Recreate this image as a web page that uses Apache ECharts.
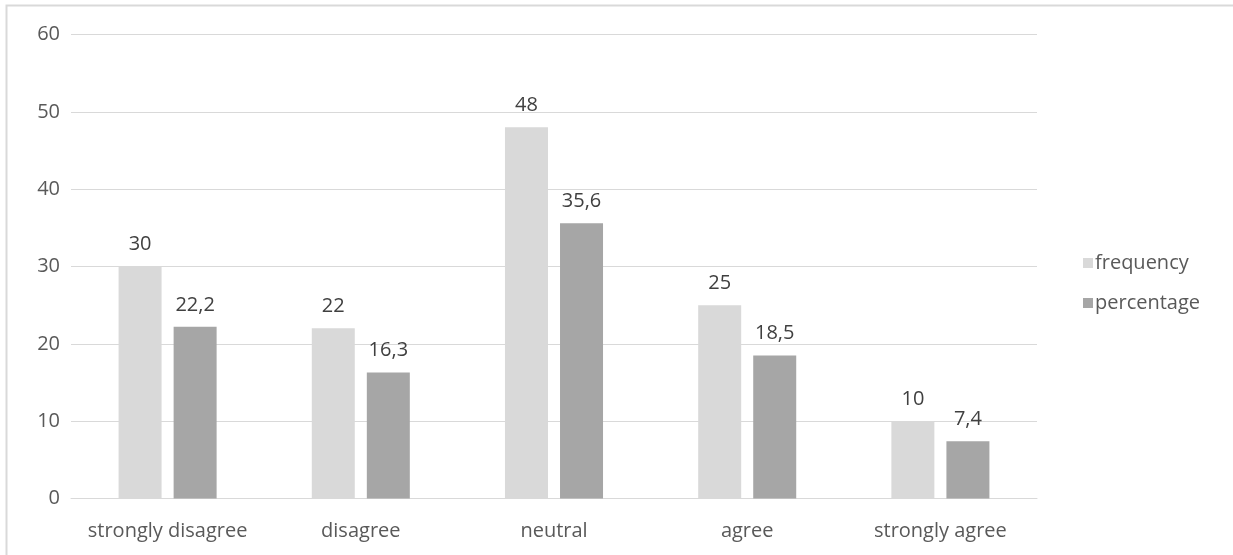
<!DOCTYPE html>
<html>
<head>
<meta charset="utf-8">
<script src="https://cdn.jsdelivr.net/npm/echarts@6/dist/echarts.min.js"></script>
<style>
  html, body { margin: 0; padding: 0; background: #fff; }
  #chart { width: 1233px; height: 555px; }
</style>
</head>
<body>
<div id="chart"></div>
<script>
// Survey responses by agreement level
const categories = ['strongly disagree', 'disagree', 'neutral', 'agree', 'strongly agree'];
const frequency = [30, 22, 48, 25, 10];
const percentage = [22.2, 16.3, 35.6, 18.5, 7.4];

const FONT = '"Open Sans", "Noto Sans", sans-serif';
const FS = 20;

const fmtComma = v => String(v).replace('.', ',');

const chart = echarts.init(document.getElementById('chart'), null, { renderer: 'canvas' });

const labelStyle = {
  show: true,
  position: 'top',
  distance: 12,
  color: '#404040',
  fontSize: FS,
  fontFamily: FONT,
  formatter: p => fmtComma(p.value)
};

chart.setOption({
  backgroundColor: '#ffffff',
  animation: false,
  graphic: [{
    type: 'rect',
    shape: { x: 6.5, y: 5.5, width: 1240, height: 600 },
    style: { fill: 'none', stroke: '#d9d9d9', lineWidth: 2 },
    silent: true,
    z: -1
  }],
  grid: { left: 71, right: 196, top: 34.5, bottom: 56.5, containLabel: false },
  legend: {
    orient: 'vertical',
    left: 1078,
    top: 248,
    itemWidth: 10,
    itemHeight: 10,
    itemGap: 20,
    icon: 'rect',
    textStyle: { color: '#595959', fontSize: FS, fontFamily: FONT, padding: [0, 0, 0, -3] },
    data: ['frequency', 'percentage']
  },
  xAxis: {
    type: 'category',
    data: categories,
    axisLine: { show: true, lineStyle: { color: '#d9d9d9', width: 1 } },
    axisTick: { show: false },
    axisLabel: { interval: 0, color: '#595959', fontSize: FS, fontFamily: FONT, margin: 23 }
  },
  yAxis: {
    type: 'value',
    min: 0,
    max: 60,
    interval: 10,
    axisLine: { show: false },
    axisTick: { show: false },
    splitLine: { lineStyle: { color: '#d9d9d9', width: 1 } },
    axisLabel: { color: '#595959', fontSize: FS, fontFamily: FONT, margin: 11 }
  },
  series: [
    {
      name: 'frequency',
      type: 'bar',
      data: frequency,
      barWidth: 43,
      barGap: '28%',
      itemStyle: { color: '#d9d9d9' },
      label: labelStyle
    },
    {
      name: 'percentage',
      type: 'bar',
      data: percentage,
      barWidth: 43,
      itemStyle: { color: '#a6a6a6' },
      label: labelStyle
    }
  ]
});
</script>
</body>
</html>
